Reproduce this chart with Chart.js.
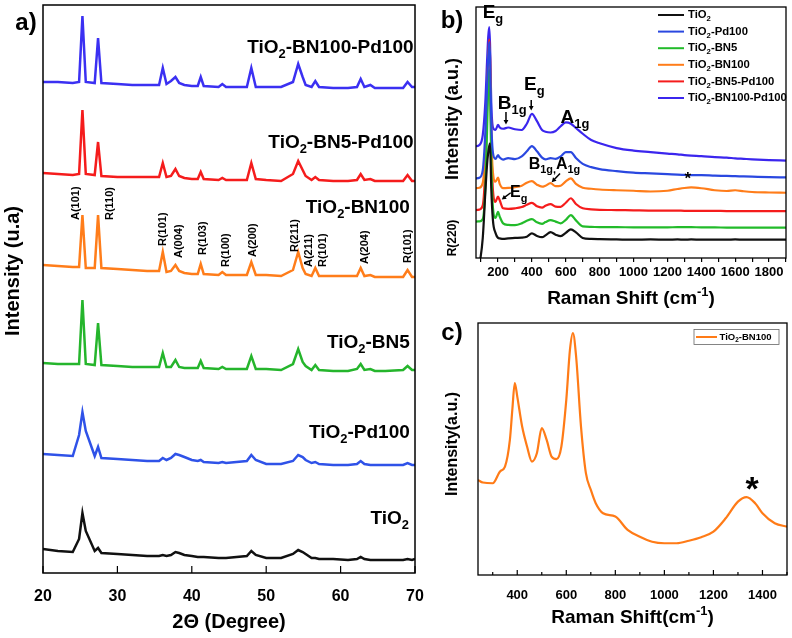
<!DOCTYPE html>
<html><head><meta charset="utf-8">
<script src="https://cdn.jsdelivr.net/npm/chart.js@4.4.0/dist/chart.umd.min.js"></script>
<style>
html,body{margin:0;padding:0;background:#fff;}
#wrap{position:relative;width:792px;height:638px;overflow:hidden;background:#fff;}
.c{position:absolute;}
</style></head><body>
<div id="wrap">
<div class="c" style="left:0;top:0;width:440px;height:638px"><canvas id="ca"></canvas></div>
<div class="c" style="left:440px;top:0;width:352px;height:310px"><canvas id="cb"></canvas></div>
<div class="c" style="left:440px;top:310px;width:352px;height:328px"><canvas id="cc"></canvas></div>
</div>
<script>
const FONT = '"Liberation Sans", Arial, sans-serif';

// ---------- Panel a: XRD ----------
const XRD_2THETA = [20,22,24,24.85,25.3,25.75,26.95,27.4,27.85,30, 32,34,35.6,36.1,36.6,37.2,37.8,38.3,39,40, 40.8,41.2,41.6,43.6,44.1,44.6,47.4,48.0,48.6,50, 52,53.6,54.3,54.9,55.3,56.1,56.6,57.1,59,61, 62.2,62.7,63.2,64.0,64.6,66,68.4,69.0,69.6,70];
const XRD_BN100_PD100 = [491,491,490,491,557,491,490,535,490,489, 488,488,488,505,489,492,496,490,488,487, 487,496,487,486,489,486,486,505,486,486, 486,491,509,496,488,486,492,486,485,485, 486,494,486,488,485,485,485,491,486,486];
const XRD_BN5_PD100 = [400,399,398,399,463,399,398,431,397,396, 396,396,396,410,396,397,404,397,395,394, 394,401,394,393,395,393,393,410,394,393, 392,399,412,403,397,393,396,393,392,392, 393,399,393,394,392,392,392,398,392,392];
const XRD_BN100 = [308,307,306,306,358,305,305,358,305,304, 303,302,302,321,301,302,308,302,300,299, 299,309,299,298,301,298,298,311,298,298, 297,303,321,305,299,297,305,297,297,297, 297,305,297,298,296,296,296,303,296,296];
const XRD_BN5 = [210,209,209,209,273,209,208,250,208,207, 206,206,206,220,206,206,213,206,205,205, 205,212,205,204,206,204,204,217,204,204, 203,209,224,211,207,203,208,203,202,202, 204,209,203,204,202,202,203,207,203,203];
const XRD_PD100 = [119,118,117,138,161,142,117,126,115,114, 113,112,112,115,113,115,119,118,116,113, 112,113,111,110,111,110,112,118,113,109, 109,112,118,116,113,110,111,109,108,108, 109,112,109,108,108,108,108,110,108,108];
const XRD_TIO2 = [24,22,21,34,60,42,22,25,20,19, 18,17,17,18,17,18,21,20,18,17, 16,16,16,15,15,15,17,22,18,15, 15,19,23,21,19,15,15,14,14,13, 14,16,14,13,13,13,13,14,13,14];
const XRD_NAMES = ['TiO_{2}-BN100-Pd100','TiO_{2}-BN5-Pd100','TiO_{2}-BN100','TiO_{2}-BN5','TiO_{2}-Pd100','TiO_{2}'];
const XRD_COLORS = ['#3b30f2','#f51c1c','#ff7d1a','#25b52c','#2f52e8','#111111'];
const XRD_TICKS = [20,30,40,50,60,70];
const HKL_LABELS = ['A(101)','R(110)','R(101)','A(004)','R(103)','R(100)','A(200)','R(211)','A(211)','R(101)','A(204)','R(101)'];

// ---------- Panel b: Raman ----------
const RAMAN_SHIFT = [70,90,110,125,135,142,148,153,160,170, 185,200,210,230,260,300,340,370,400,430, 460,480,510,540,570,600,630,660,700,750, 800,900,1000,1100,1200,1260,1300,1340,1400,1480, 1550,1600,1650,1700,1800,1900];
const R_TIO2 = [-12,-3,8,26,37,42,44.5,45.7,28,15, 10,8,7.8,7.6,7.8,8,8.1,8.5,9.8,8.8, 8.3,9,10.3,9.3,8.7,10,11.4,10.2,8,7.6, 7.5,7.4,7.3,7.4,7.3,7.4,7.3,7.4,7.3,7.3, 7.3,7.4,7.3,7.3,7.3,7.3];
const R_PD100 = [31.7,32,35,50,68,80,86,80,55,42, 39.5,41,40,39.2,39.8,39.4,40.5,42.5,44.6,42.5, 40,39.3,39.8,39.5,40.5,42.2,42.2,39.8,37.5,36.2, 35.4,34.6,34,33.7,33.4,33.2,33.1,33,33,32.8, 32.7,32.6,32.5,32.4,32.2,32.1];
const R_BN5 = [14.5,14.6,15.5,28,50,68,75,68,38,20, 16,18.4,16.5,13.8,13.2,13.1,13.8,14.8,15.5,14.2, 13.6,14.3,15.1,14.5,13.8,15.2,17.1,15,12.6,12.4, 12.3,12.3,12.2,12.2,12.2,12.3,12.3,12.3,12.2,12.2, 12.1,12.1,12.1,12.1,12.1,12.1];
const R_BN100 = [27.8,28,30,42,62,78,84,78,50,34, 30.4,32,29.5,27.8,27.9,28.2,28.8,30,30.6,29.2, 28.4,28.8,29.8,28.6,28.8,30.5,31.7,29.5,28,27.6, 27.3,27,26.8,26.5,26.8,27.5,27.9,28.1,27.8,27, 26.7,27,26.6,26.3,26.1,26];
const R_BN5_PD100 = [19.1,19.3,21,36,60,80,87,80,48,27, 22.4,24.5,23,19.8,19.6,19.8,20.3,21.2,22,20.6, 20.1,20.8,21.5,20.5,20.4,22,23.8,21.5,19.8,19.4, 19.2,19.1,19,18.9,18.9,18.9,18.8,18.8,18.8,18.8, 18.7,18.7,18.7,18.7,18.7,18.7];
const R_BN100_PD100 = [44.5,45,49,62,78,88,92,85,62,52, 51,53,52,51.5,52,51.3,51,53.5,57.4,54.5, 51,50.3,50,50.6,52.5,54,53.5,51.8,49.5,47, 45.7,43.8,42.8,42.2,41.6,41.3,41,40.8,40.6,40.2, 40,39.7,39.5,39.3,39,38.8];
const RAMAN_NAMES = ['TiO_{2}','TiO_{2}-Pd100','TiO_{2}-BN5','TiO_{2}-BN100','TiO_{2}-BN5-Pd100','TiO_{2}-BN100-Pd100'];
const RAMAN_COLORS = ['#111111','#2a48e0','#22bb2a','#ff7d1a','#f51c1c','#3b26ee'];

// ---------- Panel c: Raman TiO2-BN100 ----------
const C_SHIFT = [240,260,300,330,350,370,380,390,400,420, 440,460,480,500,520,540,560,580,600,615, 627,640,660,680,700,720,750,800,850,900, 950,1000,1050,1100,1150,1200,1250,1300,1335,1370, 1400,1450,1500];
const C_BN100 = [37.7,36.7,36.4,41.1,43.0,53.6,65.6,76.2,70.9,58.9, 51.0,45.0,48.3,58.3,53.6,47.0,46.0,51.0,69.5,89.4, 96.0,86.8,58.9,40.4,33.8,28.5,24.5,23.2,17.9,15.2, 13.2,12.6,12.6,13.6,15.0,17.2,22.5,29.1,30.9,28.5, 24.5,20.5,19.2];

// ---------- helpers ----------
function parseRich(s){
  const segs=[]; let i=0, cur='';
  while(i<s.length){
    const ch=s[i];
    if((ch==='_'||ch==='^') && s[i+1]==='{'){
      if(cur){segs.push({t:cur,k:0});cur='';}
      const j=s.indexOf('}',i);
      segs.push({t:s.slice(i+2,j),k:ch==='_'?1:2});
      i=j+1;
    } else {cur+=ch;i++;}
  }
  if(cur)segs.push({t:cur,k:0});
  return segs;
}
function drawRich(ctx,s,x,y,size,o={}){
  const segs=parseRich(s);
  const w=o.weight||'bold';
  ctx.save();
  ctx.translate(x,y);
  if(o.rot) ctx.rotate(o.rot);
  ctx.fillStyle=o.color||'#000';
  ctx.textBaseline='middle';
  ctx.textAlign='left';
  let tot=0;
  for(const g of segs){g.fs=g.k?size*0.68:size; ctx.font=w+' '+g.fs+'px '+FONT; g.w=ctx.measureText(g.t).width; tot+=g.w;}
  let cx = o.align==='center'? -tot/2 : o.align==='right' ? -tot : 0;
  for(const g of segs){ctx.font=w+' '+g.fs+'px '+FONT; const dy=g.k===1?size*0.36:g.k===2?-size*0.36:0; ctx.fillText(g.t,cx,dy); cx+=g.w;}
  ctx.restore();
}
function arrow(ctx,x1,y1,x2,y2){
  ctx.save(); ctx.strokeStyle='#000'; ctx.fillStyle='#000'; ctx.lineWidth=1.5;
  const a=Math.atan2(y2-y1,x2-x1), L=5;
  ctx.beginPath(); ctx.moveTo(x1,y1); ctx.lineTo(x2-3*Math.cos(a),y2-3*Math.sin(a)); ctx.stroke();
  ctx.beginPath(); ctx.moveTo(x2,y2);
  ctx.lineTo(x2-L*Math.cos(a-0.5),y2-L*Math.sin(a-0.5));
  ctx.lineTo(x2-L*Math.cos(a+0.5),y2-L*Math.sin(a+0.5));
  ctx.closePath(); ctx.fill(); ctx.restore();
}
function frame(ctx,ca,lw){
  ctx.save(); ctx.strokeStyle='#000'; ctx.lineWidth=lw;
  ctx.strokeRect(ca.left,ca.top,ca.right-ca.left,ca.bottom-ca.top); ctx.restore();
}
function inwardTicks(ctx,scale,ca,len){
  ctx.save(); ctx.strokeStyle='#000'; ctx.lineWidth=1.2;
  scale.ticks.forEach(t=>{const px=scale.getPixelForValue(t.value); if(px<ca.left-0.5||px>ca.right+0.5)return; ctx.beginPath(); ctx.moveTo(px,ca.bottom); ctx.lineTo(px,ca.bottom-len(t.value)); ctx.stroke();});
  ctx.restore();
}
const pts=(xs,ys)=>xs.map((x,i)=>({x:x,y:ys[i]}));

// ---------- Chart a ----------
const xrdSeries=[XRD_BN100_PD100,XRD_BN5_PD100,XRD_BN100,XRD_BN5,XRD_PD100,XRD_TIO2];
const xrdLabelAnchor=[[69.8,525],[69.8,430],[69.3,365],[69.3,230],[69.3,140],[69.2,54]];
const hklAnchor=[[24.45,353],[29.0,353],[36.08,327],[38.24,315],[41.47,318],[44.53,306],[48.2,316],[53.87,321],[55.76,306],[57.64,306],[63.3,309],[69.1,310]];
new Chart(document.getElementById('ca'),{
  type:'line',
  data:{datasets:xrdSeries.map((s,i)=>({label:XRD_NAMES[i],data:pts(XRD_2THETA,s),borderColor:XRD_COLORS[i],borderWidth:2.5,pointRadius:0,tension:0,fill:false}))},
  options:{
    responsive:true,maintainAspectRatio:false,animation:false,
    layout:{padding:{left:43,top:5,right:25,bottom:0}},
    plugins:{legend:{display:false},tooltip:{enabled:false}},
    scales:{
      x:{type:'linear',min:20,max:70,grid:{display:false},border:{display:false},
         afterFit:s=>{s.height=65;},
         afterBuildTicks:s=>{s.ticks=XRD_TICKS.map(v=>({value:v}));},
         ticks:{color:'#000',font:{family:FONT,size:16,weight:'bold'},padding:6,maxRotation:0,autoSkip:false}},
      y:{display:false,min:0,max:568}
    }
  },
  plugins:[{id:'pa',afterDraw(ch){
    const {ctx,chartArea:ca,scales:{x,y}}=ch;
    frame(ctx,ca,1.5);
    inwardTicks(ctx,x,ca,()=>7);
    XRD_NAMES.forEach((n,i)=>drawRich(ctx,n,x.getPixelForValue(xrdLabelAnchor[i][0]),y.getPixelForValue(xrdLabelAnchor[i][1]),19,{align:'right'}));
    HKL_LABELS.forEach((n,i)=>drawRich(ctx,n,x.getPixelForValue(hklAnchor[i][0]),y.getPixelForValue(hklAnchor[i][1]),11,{rot:-Math.PI/2,align:'left'}));
    drawRich(ctx,'Intensity (u.a)',13,271,20,{rot:-Math.PI/2,align:'center'});
    drawRich(ctx,'2\u0398 (Degree)',(ca.left+ca.right)/2,622,20,{align:'center'});
    drawRich(ctx,'a)',26,23,24,{align:'center'});
  }}]
});

// ---------- Chart b ----------
const ramanSeries=[R_TIO2,R_PD100,R_BN5,R_BN100,R_BN5_PD100,R_BN100_PD100];
new Chart(document.getElementById('cb'),{
  type:'line',
  data:{datasets:ramanSeries.map((s,i)=>({label:RAMAN_NAMES[i],data:pts(RAMAN_SHIFT,s),borderColor:RAMAN_COLORS[i],borderWidth:2.2,pointRadius:0,cubicInterpolationMode:'monotone',fill:false}))},
  options:{
    responsive:true,maintainAspectRatio:false,animation:false,
    layout:{padding:{left:36,top:7,right:6,bottom:0}},
    plugins:{legend:{display:false},tooltip:{enabled:false}},
    scales:{
      x:{type:'linear',min:70,max:1900,
         grid:{display:true,drawOnChartArea:false,drawTicks:true,tickLength:4,color:'#000',lineWidth:1.2},border:{display:false},
         afterFit:s=>{s.height=52;},
         ticks:{stepSize:100,includeBounds:false,autoSkip:false,maxRotation:0,color:'#000',padding:3,
                font:{family:FONT,size:13,weight:'bold'},callback:v=>(v%200===0?String(v):'')}},
      y:{display:false,min:0,max:100}
    }
  },
  plugins:[{id:'pb',afterDraw(ch){
    const {ctx,chartArea:ca,scales:{x,y}}=ch;
    frame(ctx,ca,1.3);
    const X=v=>x.getPixelForValue(v), Y=v=>y.getPixelForValue(v);
    // legend
    RAMAN_NAMES.forEach((n,i)=>{
      const ly=15+i*16.6;
      ctx.save(); ctx.strokeStyle=RAMAN_COLORS[i]; ctx.lineWidth=2; ctx.beginPath(); ctx.moveTo(218,ly); ctx.lineTo(244,ly); ctx.stroke(); ctx.restore();
      drawRich(ctx,n,248,ly,11.3,{align:'left'});
    });
    // peak annotations
    drawRich(ctx,'E_{g}',X(170),Y(97.8),19,{align:'center'});
    drawRich(ctx,'B_{1g}',X(284),Y(61.5),19,{align:'center'});
    arrow(ctx,X(247),Y(58.2),X(247),Y(53.2));
    drawRich(ctx,'E_{g}',X(414),Y(68.9),19,{align:'center'});
    arrow(ctx,X(396),Y(62.9),X(396),Y(58.8));
    drawRich(ctx,'A_{1g}',X(654),Y(55.8),19,{align:'center'});
    drawRich(ctx,'B_{1g,}A_{1g}',X(533),Y(37.3),16,{align:'center'});
    arrow(ctx,X(566),Y(33.7),X(517),Y(30.2));
    drawRich(ctx,'E_{g}',X(322),Y(25.9),16,{align:'center'});
    arrow(ctx,X(275),Y(26),X(222),Y(23.3));
    drawRich(ctx,'*',X(1321),Y(31.5),17,{align:'center'});
    // titles
    drawRich(ctx,'Intensity (a.u.)',13,119,18,{rot:-Math.PI/2,align:'center'});
    drawRich(ctx,'R(220)',13,238,12,{rot:-Math.PI/2,align:'center'});
    drawRich(ctx,'Raman Shift (cm^{-1})',(ca.left+ca.right)/2,299,19,{align:'center'});
    drawRich(ctx,'b)',12,21,24,{align:'center'});
  }}]
});

// ---------- Chart c ----------
new Chart(document.getElementById('cc'),{
  type:'line',
  data:{datasets:[{label:'TiO_{2}-BN100',data:pts(C_SHIFT,C_BN100),borderColor:'#ff7b17',borderWidth:2.2,pointRadius:0,cubicInterpolationMode:'monotone',fill:false}]},
  options:{
    responsive:true,maintainAspectRatio:false,animation:false,
    layout:{padding:{left:38,top:13,right:4,bottom:0}},
    plugins:{legend:{display:false},tooltip:{enabled:false}},
    scales:{
      x:{type:'linear',min:240,max:1500,grid:{display:false},border:{display:false},
         afterFit:s=>{s.height=63;},
         ticks:{stepSize:100,includeBounds:false,autoSkip:false,maxRotation:0,color:'#000',padding:5,
                font:{family:FONT,size:13,weight:'bold'},callback:v=>(v%200===0?String(v):'')}},
      y:{display:false,min:0,max:100}
    }
  },
  plugins:[{id:'pc',afterDraw(ch){
    const {ctx,chartArea:ca,scales:{x,y}}=ch;
    frame(ctx,ca,1.3);
    inwardTicks(ctx,x,ca,v=>(v%200===0?5:3));
    // legend box
    ctx.save(); ctx.strokeStyle='#666'; ctx.lineWidth=0.8; ctx.strokeRect(254,19.5,85,15);
    ctx.strokeStyle='#ff7b17'; ctx.lineWidth=2; ctx.beginPath(); ctx.moveTo(256,27); ctx.lineTo(277,27); ctx.stroke(); ctx.restore();
    drawRich(ctx,ch.data.datasets[0].label,279.5,27,9.5,{align:'left'});
    drawRich(ctx,'*',x.getPixelForValue(1358),y.getPixelForValue(33.5),34,{align:'center'});
    drawRich(ctx,'Intensity(a.u.)',13,134,16,{rot:-Math.PI/2,align:'center'});
    drawRich(ctx,'Raman Shift(cm^{-1})',(ca.left+ca.right)/2,308,19,{align:'center'});
    drawRich(ctx,'c)',12,23,24,{align:'center'});
  }}]
});
</script>
</body></html>
